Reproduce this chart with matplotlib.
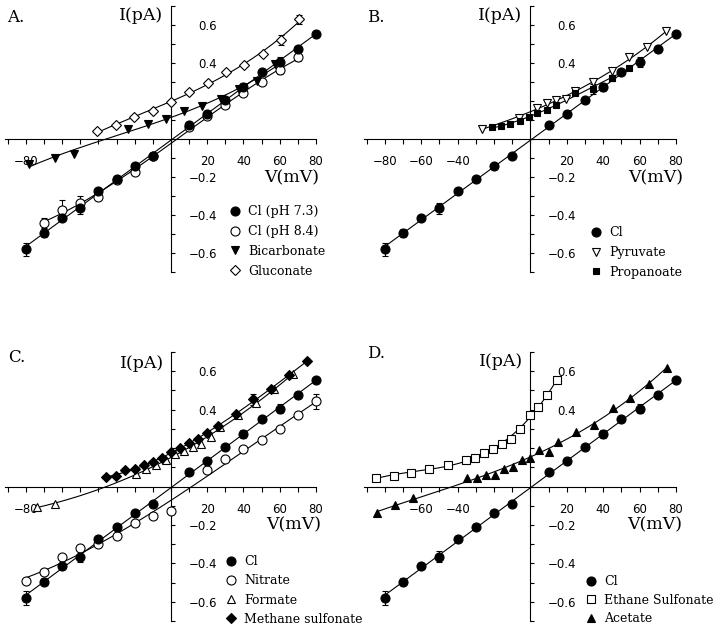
import numpy as np
import matplotlib.pyplot as plt
from matplotlib.lines import Line2D

# chloride control, same in every panel
cl_v = [-80, -70, -60, -50, -40, -30, -20, -10, 10, 20, 30, 40, 50, 60, 70, 80]
cl_i = [-0.58, -0.495, -0.415, -0.365, -0.275, -0.21, -0.14, -0.09,
        0.075, 0.133, 0.203, 0.273, 0.352, 0.405, 0.475, 0.555]
cl_err = [0.035, 0.02, 0, 0.03, 0, 0.015, 0, 0, 0, 0, 0, 0.02, 0, 0.025, 0.015, 0]

# panel A
cl84_v = [-70, -60, -50, -40, -30, -20, -10, 10, 20, 30, 40, 50, 60, 70]
cl84_i = [-0.443, -0.372, -0.335, -0.305, -0.215, -0.172, -0.09,
          0.065, 0.12, 0.18, 0.24, 0.30, 0.365, 0.43]
cl84_err = [0.025, 0.05, 0.035, 0, 0, 0, 0, 0, 0, 0, 0, 0, 0.025, 0.02]
bic_v = [-78, -64, -53.5, -23.5, -12.9, -2.9, 7.2, 17.3, 27.6, 37.5, 47.3, 57.4]
bic_i = [-0.134, -0.099, -0.078, 0.052, 0.078, 0.106, 0.145, 0.176, 0.21, 0.263, 0.306, 0.393]
glu_v = [-40.5, -30.3, -20.2, -10.1, 0, 10.1, 20.2, 30.3, 40.5, 50.5, 60.5, 70.5]
glu_i = [0.04, 0.075, 0.115, 0.145, 0.197, 0.245, 0.296, 0.353, 0.391, 0.449, 0.52, 0.63]
glu_err = [0, 0, 0, 0, 0, 0, 0, 0, 0, 0, 0.025, 0.025]

# panel B
pyr_v = [-26.5, -6.4, 3.7, 9.1, 14.2, 19.5, 24.3, 34.3, 44.7, 54.4, 64.3, 74.5]
pyr_i = [0.052, 0.113, 0.162, 0.19, 0.207, 0.212, 0.252, 0.30, 0.357, 0.43, 0.483, 0.567]
prop_v = [-21.4, -16.1, -11.3, -6, -0.9, 3.7, 9.1, 14.2, 24.3, 34.3, 44.7, 54.4]
prop_i = [0.061, 0.066, 0.08, 0.097, 0.118, 0.136, 0.153, 0.179, 0.24, 0.263, 0.322, 0.374]
prop_err = [0, 0, 0, 0, 0, 0, 0, 0, 0, 0.025, 0.015, 0]

# panel C
nit_v = [-80, -70, -60, -50, -40, -30, -20, -10, 0, 20, 30, 40, 50, 60, 70, 80]
nit_i = [-0.494, -0.444, -0.366, -0.322, -0.30, -0.256, -0.19, -0.155, -0.125,
         0.087, 0.144, 0.197, 0.244, 0.298, 0.371, 0.444]
nit_err = [0] * 15 + [0.04]
form_v = [-74, -64, -19, -13.5, -8, -2.5, 2, 7, 12, 16.5, 22, 27, 37, 47, 57, 67.5]
form_i = [-0.108, -0.09, 0.066, 0.092, 0.113, 0.14, 0.169, 0.186, 0.205, 0.223,
          0.26, 0.312, 0.374, 0.435, 0.509, 0.583]
ms_v = [-35.9, -30.3, -25.4, -19.9, -14.9, -10.1, -5.1, 0, 5, 9.9, 15.1, 20, 25.7,
        35.9, 45.4, 55, 65.3, 75.2]
ms_i = [0.049, 0.057, 0.084, 0.089, 0.11, 0.127, 0.15, 0.179, 0.202, 0.226, 0.245,
        0.28, 0.313, 0.379, 0.453, 0.505, 0.58, 0.654]
ms_err = [0] * 14 + [0.03, 0, 0, 0]

# panel D
es_v = [-85.1, -75.1, -65.5, -55.5, -45.6, -35.6, -30.5, -25.6, -20.5, -15.6, -10.9,
        -5.6, -0.5, 4, 9.1, 14.5]
es_i = [0.045, 0.057, 0.07, 0.092, 0.11, 0.136, 0.148, 0.174, 0.197, 0.223, 0.249,
        0.298, 0.371, 0.414, 0.475, 0.553]
ac_v = [-84.2, -74.5, -64.5, -34.7, -29.6, -24.7, -19.6, -14.7, -9.6, -4.7, 0, 4.9,
        10.4, 14.9, 24.9, 34.9, 45.3, 54.9, 64.9, 75.3]
ac_i = [-0.139, -0.096, -0.059, 0.044, 0.044, 0.061, 0.061, 0.089, 0.101, 0.136, 0.15,
        0.191, 0.179, 0.232, 0.284, 0.319, 0.406, 0.458, 0.536, 0.618]

W, H = 720, 628
plt.rcParams['font.family'] = 'DejaVu Serif'
fig = plt.figure(figsize=(W / 100, H / 100), dpi=100)


def px(x, y):
    return x / W, 1 - y / H


def style(marker, filled, ms):
    return dict(marker=marker, ms=ms, mec='black', mew=0.8,
                mfc='black' if filled else 'white', ls='none')


def series(ax, v, i, sty, err=None, deg=3):
    p = np.polyfit(v, i, deg)
    vv = np.linspace(min(v), max(v), 200)
    ax.plot(vv, np.polyval(p, vv), color='black', lw=0.8, zorder=1)
    if err is not None:
        ax.errorbar(v, i, yerr=err, fmt='none', ecolor='black', elinewidth=0.8,
                    capsize=2.5, capthick=0.8, zorder=2, clip_on=False)
    ax.plot(v, i, zorder=3, clip_on=False, **sty)


def setup(ax, xlab):
    ax.patch.set_visible(False)
    ax.set_xlim(-91.5, 80)
    ax.set_ylim(-0.7, 0.7)
    ax.spines['top'].set_visible(False)
    ax.spines['left'].set_visible(False)
    ax.spines['bottom'].set_position(('data', 0))
    ax.spines['right'].set_position(('data', 0))
    for s in ax.spines.values():
        s.set_linewidth(0.8)
    ax.yaxis.tick_right()
    xt = np.arange(-90, 81, 10)
    ax.set_xticks(xt)
    ax.set_xticklabels([('\u2212%d' % -x if x < 0 else '%d' % x) if x in xlab else '' for x in xt])
    yt = np.round(np.arange(-0.7, 0.71, 0.1), 1)
    ax.set_yticks(yt)
    ax.set_yticklabels([('\u2212%.1f' % -y if y < 0 else '%.1f' % y)
                        if y in (0.6, 0.4, -0.2, -0.4, -0.6) else '' for y in yt])
    ax.tick_params(axis='x', direction='out', length=3.6, width=0.8, pad=8, labelsize=8.5)
    ax.tick_params(axis='y', direction='out', length=3, width=0.8, pad=30, labelsize=8.5)
    for lab in ax.get_yticklabels():
        lab.set_horizontalalignment('right')
        lab.set_fontfamily('DejaVu Sans')
    for lab in ax.get_xticklabels():
        lab.set_fontfamily('DejaVu Sans')


def legend(ax, entries, x, y, spacing=0.55):
    handles = [Line2D([], [], **sty) for sty, _ in entries]
    labels = [lab for _, lab in entries]
    ax.legend(handles, labels, loc='upper left', bbox_to_anchor=px(x, y),
              bbox_transform=fig.transFigure, frameon=False, borderpad=0,
              borderaxespad=0, handlelength=0.8, handletextpad=0.65,
              labelspacing=spacing, numpoints=1, fontsize=9)


def annotate(letter, lx, ly, ix, iy, vx, vy):
    fig.text(*px(lx, ly), letter, fontsize=12, va='center', ha='left')
    fig.text(*px(ix, iy), 'I(pA)', fontsize=12.5, va='center', ha='center')
    fig.text(*px(vx, vy), 'V(mV)', fontsize=12.5, va='center', ha='center')


cl_sty = style('o', True, 6.5)
open_circ = style('o', False, 6.5)

# A
axA = fig.add_axes([5 / W, 1 - 272 / H, 311 / W, 266 / H])
setup(axA, [-80, 20, 40, 60, 80])
series(axA, cl84_v, cl84_i, open_circ, cl84_err)
series(axA, bic_v, bic_i, style('v', True, 6))
series(axA, glu_v, glu_i, style('D', False, 5), glu_err)
series(axA, cl_v, cl_i, cl_sty, cl_err, deg=1)
legend(axA, [(cl_sty, 'Cl (pH 7.3)'), (open_circ, 'Cl (pH 8.4)'),
             (style('v', True, 6), 'Bicarbonate'), (style('D', False, 5), 'Gluconate')],
       230, 205)
annotate('A.', 7, 17, 141, 15, 292, 178)

# B
axB = fig.add_axes([364 / W, 1 - 272 / H, 312 / W, 266 / H])
setup(axB, [-80, -60, -40, 20, 40, 60, 80])
series(axB, cl_v, cl_i, cl_sty, cl_err, deg=1)
series(axB, pyr_v, pyr_i, style('v', False, 6))
series(axB, prop_v, prop_i, style('s', True, 5), prop_err)
legend(axB, [(cl_sty, 'Cl'), (style('v', False, 6), 'Pyruvate'),
             (style('s', True, 5), 'Propanoate')], 591, 226)
annotate('B.', 367, 17, 500, 15, 656, 178)

# C
axC = fig.add_axes([5 / W, 1 - 621 / H, 311 / W, 269 / H])
setup(axC, [-80, 20, 40, 60, 80])
series(axC, nit_v, nit_i, open_circ, nit_err)
series(axC, form_v, form_i, style('^', False, 6))
series(axC, ms_v, ms_i, style('D', True, 5), ms_err)
series(axC, cl_v, cl_i, cl_sty, cl_err, deg=1)
legend(axC, [(cl_sty, 'Cl'), (open_circ, 'Nitrate'), (style('^', False, 6), 'Formate'),
             (style('D', True, 5), 'Methane sulfonate')], 226, 555, spacing=0.5)
annotate('C.', 8, 357, 142, 364, 294, 525)

# D
axD = fig.add_axes([364 / W, 1 - 621 / H, 312 / W, 269 / H])
setup(axD, [-60, -40, 20, 40, 60, 80])
series(axD, cl_v, cl_i, cl_sty, cl_err, deg=1)
series(axD, es_v, es_i, style('s', False, 5.5))
series(axD, ac_v, ac_i, style('^', True, 6))
legend(axD, [(cl_sty, 'Cl'), (style('s', False, 5.5), 'Ethane Sulfonate'),
             (style('^', True, 6), 'Acetate')], 586, 575, spacing=0.45)
annotate('D.', 367, 353, 501, 362, 655, 525)

fig.savefig('out.png', dpi=100)
